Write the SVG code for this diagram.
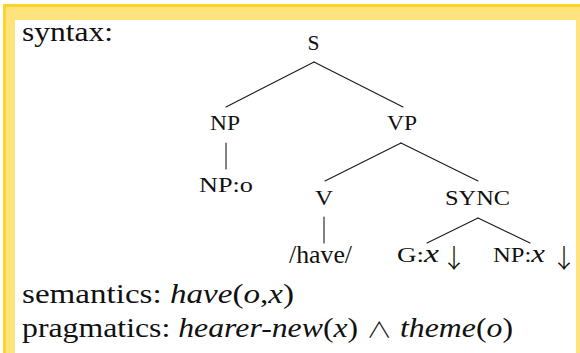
<svg xmlns="http://www.w3.org/2000/svg" width="580" height="353" viewBox="0 0 580 353">
  <style>
    .t { fill: #111; font-family: 'Liberation Serif'; }
    .lbl { font-size: 22px; text-anchor: middle; }
    .body { font-size: 27px; }
    .it { font-style: italic; }
    .sym { font-weight: 300; font-family: 'Noto Sans CJK JP'; }
    .edge { stroke: #1a1a1a; stroke-width: 1.1; fill: none; stroke-linecap: round; }
  </style>

  <!-- page and yellow frame -->
  <rect x="0" y="0" width="580" height="353" fill="#ffffff"/>
  <rect x="3" y="4" width="600" height="400" fill="#FFD42A"/>
  <rect x="6" y="7" width="600" height="400" fill="#FFE37C"/>
  <rect x="15" y="20" width="561" height="400" fill="#ffffff"/>

  <text class="t body" x="22" y="41" textLength="91" lengthAdjust="spacingAndGlyphs">syntax:</text>

  <!-- tree edges -->
  <g id="connectors">
    <line class="edge" x1="314" y1="62" x2="226" y2="107"/>
    <line class="edge" x1="314" y1="62" x2="403" y2="107"/>
    <line class="edge" x1="226" y1="143" x2="226" y2="169"/>
    <line class="edge" x1="401" y1="143" x2="325" y2="181"/>
    <line class="edge" x1="401" y1="143" x2="478" y2="181"/>
    <line class="edge" x1="324" y1="217" x2="324" y2="243"/>
    <line class="edge" x1="478" y1="218" x2="427" y2="243"/>
    <line class="edge" x1="478" y1="218" x2="530" y2="243"/>
  </g>

  <!-- tree nodes -->
  <g id="node-S"><text class="t lbl" x="313.5" y="50" textLength="12" lengthAdjust="spacingAndGlyphs">S</text></g>
  <g id="node-NP"><text class="t lbl" x="225" y="130" textLength="30" lengthAdjust="spacingAndGlyphs">NP</text></g>
  <g id="node-VP"><text class="t lbl" x="402" y="130" textLength="30" lengthAdjust="spacingAndGlyphs">VP</text></g>
  <g id="node-NPo"><text class="t lbl" x="226" y="192" textLength="54" lengthAdjust="spacingAndGlyphs">NP:o</text></g>
  <g id="node-V"><text class="t lbl" x="324" y="205" textLength="18" lengthAdjust="spacingAndGlyphs">V</text></g>
  <g id="node-SYNC"><text class="t lbl" x="477.5" y="205" textLength="65" lengthAdjust="spacingAndGlyphs">SYNC</text></g>
  <g id="node-have"><text class="t" x="289" y="263" font-size="25" textLength="63" lengthAdjust="spacingAndGlyphs">/have/</text></g>
  <g id="node-Gx">
    <text class="t" x="397" y="262" font-size="20" textLength="42" lengthAdjust="spacingAndGlyphs">G:<tspan class="it" font-size="25">x</tspan></text>
    <text class="sym" x="441" y="268" font-size="26" fill="#111">↓</text>
  </g>
  <g id="node-NPx">
    <text class="t" x="493" y="262" font-size="20" textLength="52" lengthAdjust="spacingAndGlyphs">NP:<tspan class="it" font-size="25">x</tspan></text>
    <text class="sym" x="551" y="268" font-size="26" fill="#111">↓</text>
  </g>

  <!-- interpretation lines -->
  <text class="t body" x="22" y="303" textLength="272" lengthAdjust="spacingAndGlyphs">semantics: <tspan class="it">have</tspan>(<tspan class="it">o</tspan>,<tspan class="it">x</tspan>)</text>
  <text class="t body" x="22" y="337" textLength="491" lengthAdjust="spacingAndGlyphs">pragmatics: <tspan class="it">hearer-new</tspan>(<tspan class="it">x</tspan>) <tspan class="sym" font-size="22">∧</tspan> <tspan class="it">theme</tspan>(<tspan class="it">o</tspan>)</text>
</svg>
